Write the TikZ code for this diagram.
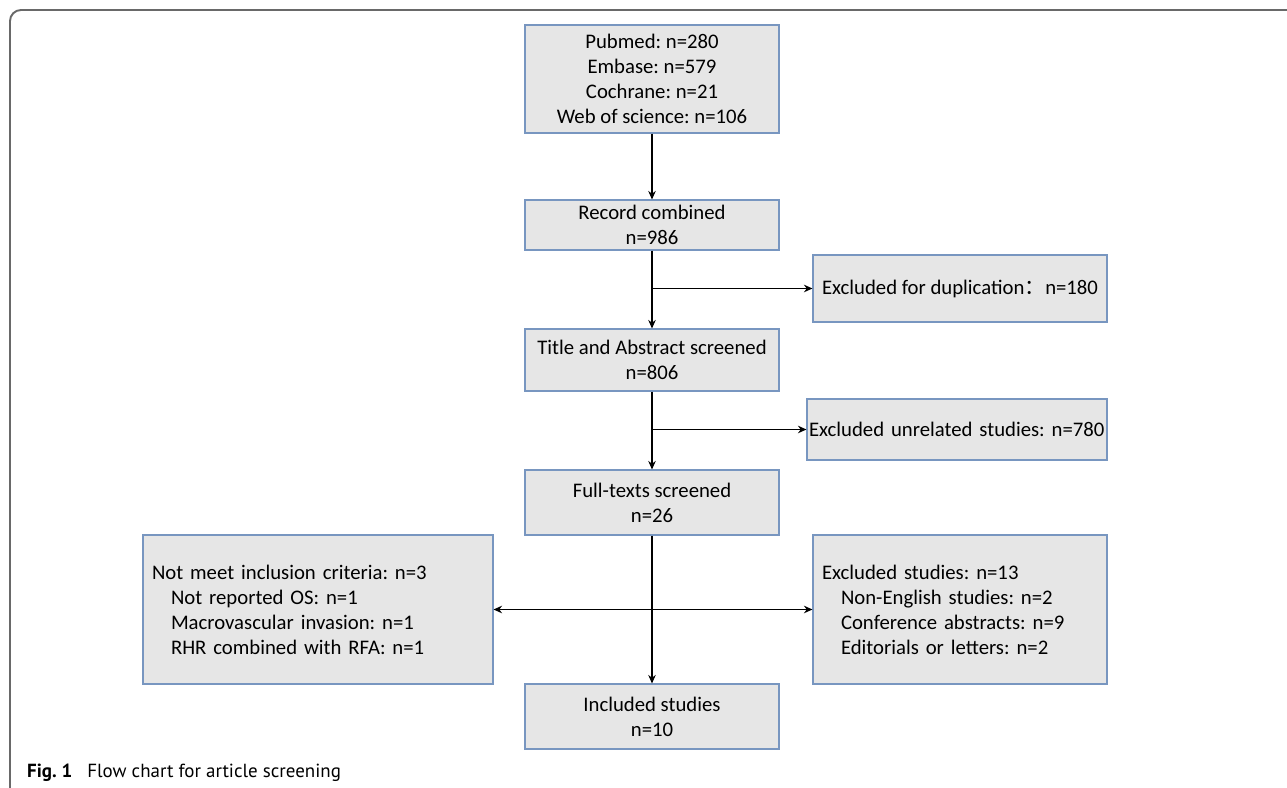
\documentclass[tikz,border=0pt]{standalone}
\usepackage{fontspec}
\setmainfont{Carlito}
\newfontfamily\capfont{PT Sans}
\newfontfamily\cjkfont{Noto Sans CJK SC}
\usetikzlibrary{arrows.meta}
\definecolor{boxfill}{RGB}{230,230,230}
\definecolor{boxline}{RGB}{120,150,192}
\definecolor{framegray}{RGB}{105,105,105}
\frenchspacing
\begin{document}
\begin{tikzpicture}[every node/.style={font=\fontsize{11.8}{14.2}\selectfont},
  >={Stealth[length=1.7mm,width=1.5mm]},
  flow/.style={->,line width=0.8pt,black},
  stage/.style={draw=boxline,line width=0.6pt,fill=boxfill,minimum width=5.08cm,align=center,inner sep=2pt},
  side/.style={draw=boxline,line width=0.6pt,fill=boxfill,align=left,inner sep=0.18cm}]
\useasboundingbox (0,0) rectangle (25.74,15.76);
\draw[framegray,line width=1.1pt,rounded corners=0.22cm] (0.2,0) -- (0.2,15.56) -- (25.74,15.56);
\node[stage,minimum height=2.16cm] (src) at (13.04,14.18) {Pubmed: n=280\\Embase: n=579\\Cochrane: n=21\\Web of science: n=106};
\node[stage,minimum height=1.0cm] (rec) at (13.04,11.26) {Record combined\\n=986};
\node[stage,minimum height=1.24cm] (title) at (13.04,8.56) {Title and Abstract screened\\n=806};
\node[stage,minimum height=1.3cm] (full) at (13.04,5.71) {Full-texts screened\\n=26};
\node[stage,minimum height=1.3cm] (incl) at (13.04,1.43) {Included studies\\n=10};
\node[stage,minimum width=5.88cm,minimum height=1.34cm] (dup) at (19.2,9.99) {Excluded for duplication{\cjkfont ：}n=180};
\node[side,text width=5.92cm,inner sep=0.04cm,minimum height=1.22cm] (unrel) at (19.14,7.17) {Excluded unrelated studies: n=780};
\node[side,text width=6.64cm,minimum height=2.98cm] (notmeet) at (6.36,3.57) {Not meet inclusion criteria: n=3\\
  \hspace*{0.38cm}Not reported OS: n=1\\
  \hspace*{0.38cm}Macrovascular invasion: n=1\\
  \hspace*{0.38cm}RHR combined with RFA: n=1};
\node[side,text width=5.52cm,minimum height=2.98cm] (excl) at (19.2,3.57) {Excluded studies: n=13\\
  \hspace*{0.38cm}Non-English studies: n=2\\
  \hspace*{0.38cm}Conference abstracts: n=9\\
  \hspace*{0.38cm}Editorials or letters: n=2};
\draw[flow] (src) -- (rec);
\draw[flow] (rec) -- (title);
\draw[flow] (title) -- (full);
\draw[flow] (full) -- (incl);
\draw[flow] (rec.south |- dup.west) -- (dup.west);
\draw[flow] (title.south |- unrel.west) -- (unrel.west);
\draw[flow] (full.south |- excl.west) -- (excl.west);
\draw[flow] (full.south |- notmeet.east) -- (notmeet.east);
\node[anchor=west,font=\capfont\fontsize{10.8}{12}\selectfont] (cap) at (0.42,0.3) {\textbf{Fig. 1}\hspace{0.3cm}Flow chart for article screening};
\end{tikzpicture}
\end{document}
